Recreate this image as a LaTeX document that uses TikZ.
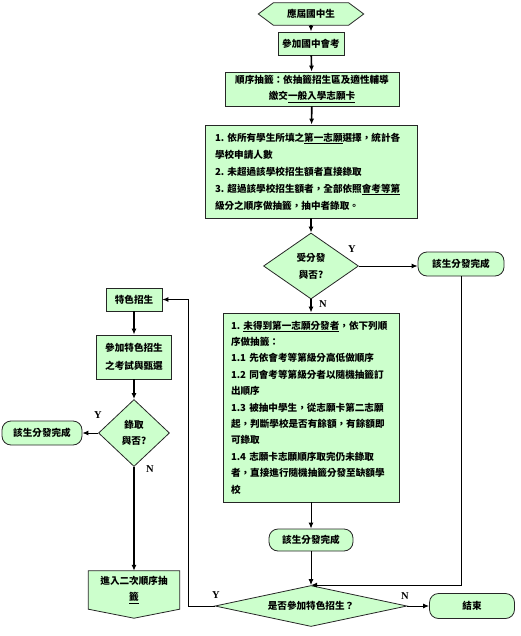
\documentclass[tikz,border=0pt]{standalone}
\usepackage{fontspec}
\setmainfont{Noto Sans CJK TC}
\newfontfamily\ynfont{Liberation Serif}
\usetikzlibrary{shapes.geometric,arrows.meta,backgrounds,calc}
\definecolor{boxgreen}{RGB}{204,255,204}
\tikzstyle{greenbox}=[rectangle, draw=black!85, fill=boxgreen, line width=0.8pt, inner sep=0pt, align=center, font=\bfseries\fontsize{9.6}{17}\selectfont]
\tikzstyle{textbox}=[greenbox, align=left]
\tikzstyle{roundbox}=[greenbox, rounded corners=9pt]
\tikzstyle{decision}=[diamond, draw=black!85, fill=boxgreen, line width=0.8pt, inner sep=0pt, align=center, font=\bfseries\fontsize{9.6}{17}\selectfont]
\tikzstyle{innerbox}=[rectangle, inner sep=0pt, align=center, font=\bfseries\fontsize{9.6}{16}\selectfont]
\tikzstyle{shapefill}=[draw=black!85, fill=boxgreen, line width=0.8pt]
\tikzstyle{yn}=[inner sep=0pt, font=\ynfont\bfseries\fontsize{10.5}{12}\selectfont]
\tikzstyle{flow}=[-{Latex[length=6pt,width=5pt]}, line width=1.6pt]
\tikzstyle{thinflow}=[-{Latex[length=6pt,width=5pt]}, line width=1pt]
\tikzstyle{thickflow}=[-{Latex[length=6pt,width=5pt]}, line width=2.6pt]

\begin{document}
\begin{tikzpicture}[x=1pt, y=1pt]
	\useasboundingbox (0, 0) rectangle (520, -636);
	\begin{scope}
		\node (start) at (311, -14)[innerbox, minimum width=75pt, minimum height=22pt] {應屆國中生};
		\node (exam) at (311, -43.5)[greenbox, minimum width=66pt, minimum height=23pt] {參加國中會考};
		\node (lottery) at (312, -89)[greenbox, minimum width=174pt, minimum height=34pt, font=\bfseries\fontsize{9.6}{16}\selectfont] {順序抽籤：依抽籤招生區及適性輔導\\繳交\underline{一般入學志願卡}};
		\node (rules) at (311, -171.5)[textbox, minimum width=212pt, minimum height=93pt, text width=192pt] {1.~依所有學生所填之\underline{第一志願}選擇，統計各\\學校申請人數\\2.~未超過該學校招生額者直接錄取\\3.~超過該學校招生額者，全部依照\underline{會考等第}\\級分之順序做抽籤，抽中者錄取。};
		\node (assigned) at (311, -266)[decision, minimum width=95pt, minimum height=66pt] {受分發\\與否?};
		\node (done1) at (461, -264)[roundbox, minimum width=86pt, minimum height=24pt] {該生分發完成};
		\node (draw2) at (311, -407.5)[textbox, minimum width=176pt, minimum height=189pt, text width=160pt, font=\bfseries\fontsize{9.6}{16.4}\selectfont] {1.~\underline{未得到第一志願分發者}，依下列順\\序做抽籤：\\1.1~先依會考等第級分高低做順序\\1.2~同會考等第級分者以隨機抽籤訂\\出順序\\1.3~被抽中學生，從志願卡第二志願\\起，判斷學校是否有餘額，有餘額即\\可錄取\\1.4~志願卡志願順序取完仍未錄取\\者，直接進行隨機抽籤分發至缺額學\\校};
		\node (done2) at (311, -540)[roundbox, minimum width=84pt, minimum height=22pt] {該生分發完成};
		\node (choice) at (311, -606)[decision, aspect=5, minimum width=192pt, minimum height=41pt] {是否參加特色招生？};
		\node (finish) at (472, -606)[roundbox, minimum width=85pt, minimum height=25pt] {結束};

		\node (special) at (134, -299.5)[greenbox, minimum width=56pt, minimum height=23pt] {特色招生};
		\node (specexam) at (134, -357)[greenbox, minimum width=75pt, minimum height=44pt, font=\bfseries\fontsize{9.6}{18}\selectfont] {參加特色招生\\之考試與甄選};
		\node (admit) at (134, -433)[decision, minimum width=71pt, minimum height=67pt, font=\bfseries\fontsize{9.6}{16}\selectfont] {錄取\\與否?};
		\node (done3) at (42, -433)[roundbox, minimum width=80pt, minimum height=24pt] {該生分發完成};
		\node (second) at (134, -590)[innerbox, minimum width=91pt, minimum height=38pt] {進入二次順序抽\\\underline{籤}};

		\node (y1) at (352, -249)[yn] {Y};
		\node (n1) at (323, -304)[yn] {N};
		\node (n2) at (405, -596)[yn] {N};
		\node (y2) at (216, -595)[yn] {Y};
		\node (y3) at (98, -415)[yn] {Y};
		\node (n3) at (150, -469)[yn] {N};
	\end{scope}
	\begin{scope}[on background layer]
		\draw [shapefill] (start.north west) -- (start.north east) -- ($(start.east)+(15, 0)$) -- (start.south east) -- (start.south west) -- ($(start.west)+(-15, 0)$) -- cycle;
		\draw [shapefill] (second.north west) -- (second.north east) -- (second.south east) -- ($(second.south)+(0, -9)$) -- (second.south west) -- cycle;
	\end{scope}
	\begin{scope}
		\path [flow] (start) edge (exam);
		\path [flow] (exam) edge (lottery);
		\path [flow] (lottery) edge (rules);
		\path [flow] (rules) edge (assigned);
		\path [flow] (assigned) edge (draw2);
		\path [thinflow] (assigned.east) edge (assigned.east -| done1.west);
		\path [thinflow] (draw2) edge (done2);
		\path [thinflow] (done2) edge (choice);
		\draw [thinflow] (done1.south) |- (choice.north);
		\path [thinflow] (choice) edge (finish);
		\draw [thinflow] (choice.west) -- ++(-26, 0) |- (special.east);

		\path [flow] (special) edge (specexam);
		\path [flow] (specexam) edge (admit);
		\path [thinflow] (admit) edge (done3);
		\path [thickflow] (admit) edge (second);
	\end{scope}
\end{tikzpicture}
\end{document}
